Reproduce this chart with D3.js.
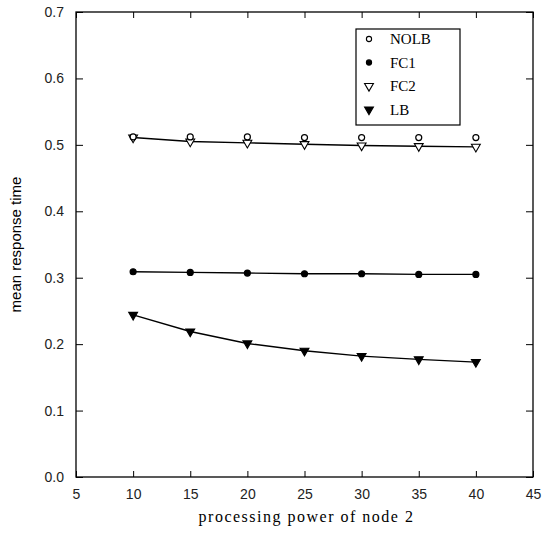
<!DOCTYPE html>
<html>
<head>
<meta charset="utf-8">
<script src="https://cdn.jsdelivr.net/npm/d3@7"></script>
<style>
  body { margin: 0; background: #fff; }
  .tick text { font-family: "Liberation Sans", Arial, sans-serif; font-size: 14px; fill: #222; }
</style>
</head>
<body>
<div id="chart"></div>
<script>
const xValues = [10, 15, 20, 25, 30, 35, 40];
const nolb = [0.512, 0.512, 0.512, 0.511, 0.511, 0.511, 0.511];
const fc1 = [0.309, 0.308, 0.307, 0.306, 0.306, 0.305, 0.305];
const fc2 = [0.511, 0.505, 0.503, 0.501, 0.499, 0.498, 0.497];
const lb = [0.244, 0.219, 0.201, 0.190, 0.182, 0.177, 0.173];
const xTicks = [5, 10, 15, 20, 25, 30, 35, 40, 45];
const yTicks = [0.0, 0.1, 0.2, 0.3, 0.4, 0.5, 0.6, 0.7];
const legendNames = ['NOLB', 'FC1', 'FC2', 'LB'];

const w = 549;
const h = 535;
const padL = 76, padR = 533, padT = 12, padB = 477;

const xScale = d3.scaleLinear().domain([5, 45]).range([padL, padR]);
const yScale = d3.scaleLinear().domain([0, 0.7]).range([padB, padT]);

const svg = d3.select('#chart')
  .append('svg')
  .attr('width', w)
  .attr('height', h);

// frame
svg.append('rect')
  .attr('x', padL).attr('y', padT)
  .attr('width', padR - padL).attr('height', padB - padT)
  .attr('fill', 'none').attr('stroke', '#000').attr('stroke-width', 1.3);

const xAxis = d3.axisBottom(xScale).tickValues(xTicks).tickSize(-6).tickPadding(12).tickFormat(d3.format('d'));
const yAxis = d3.axisLeft(yScale).tickValues(yTicks).tickSize(-7).tickPadding(12).tickFormat(d3.format('.1f'));

svg.append('g')
  .attr('transform', 'translate(0,' + padB + ')')
  .call(xAxis)
  .call(g => g.select('.domain').remove());

svg.append('g')
  .attr('transform', 'translate(' + padL + ',0)')
  .call(yAxis)
  .call(g => g.select('.domain').remove());

svg.append('g')
  .attr('transform', 'translate(0,' + padT + ')')
  .call(d3.axisTop(xScale).tickValues(xTicks).tickSize(-6).tickFormat(''))
  .call(g => g.select('.domain').remove());

svg.append('g')
  .attr('transform', 'translate(' + padR + ',0)')
  .call(d3.axisRight(yScale).tickValues(yTicks).tickSize(-7).tickFormat(''))
  .call(g => g.select('.domain').remove());

// lines
const line = d3.line()
  .x((d, i) => xScale(xValues[i]))
  .y(d => yScale(d));

[fc2, fc1, lb].forEach(s => {
  svg.append('path')
    .datum(s)
    .attr('d', line)
    .attr('fill', 'none')
    .attr('stroke', '#000')
    .attr('stroke-width', 1.4);
});

// markers
const tri = d3.symbol().type(d3.symbolTriangle).size(34);

function drawMarkers(series, kind) {
  const g = svg.append('g');
  series.forEach((v, i) => {
    const cx = xScale(xValues[i]), cy = yScale(v);
    if (kind === 'open-circle' || kind === 'dot') {
      g.append('circle')
        .attr('cx', cx).attr('cy', cy).attr('r', 3)
        .attr('fill', kind === 'dot' ? '#000' : '#fff')
        .attr('stroke', '#000').attr('stroke-width', 1.2);
    } else {
      g.append('path')
        .attr('d', tri)
        .attr('transform', 'translate(' + cx + ',' + cy + ') rotate(180)')
        .attr('fill', kind === 'down' ? '#000' : '#fff')
        .attr('stroke', '#000').attr('stroke-width', 1.1);
    }
  });
}

drawMarkers(fc2, 'open-down');
drawMarkers(nolb, 'open-circle');
drawMarkers(fc1, 'dot');
drawMarkers(lb, 'down');

// legend
const legend = svg.append('g');
legend.append('rect')
  .attr('x', 356).attr('y', 29)
  .attr('width', 104).attr('height', 96)
  .attr('fill', '#fff').attr('stroke', '#000').attr('stroke-width', 1.2);

const kinds = ['open-circle', 'dot', 'open-down', 'down'];
legendNames.forEach((name, i) => {
  const ly = 39 + i * 23.5;
  if (kinds[i] === 'open-circle' || kinds[i] === 'dot') {
    legend.append('circle')
      .attr('cx', 369).attr('cy', ly).attr('r', 2.6)
      .attr('fill', kinds[i] === 'dot' ? '#000' : '#fff')
      .attr('stroke', '#000').attr('stroke-width', 1.1);
  } else {
    legend.append('path')
      .attr('d', tri)
      .attr('transform', 'translate(369,' + ly + ') rotate(180)')
      .attr('fill', kinds[i] === 'down' ? '#000' : '#fff')
      .attr('stroke', '#000').attr('stroke-width', 1.1);
  }
  legend.append('text')
    .attr('x', 390).attr('y', ly + 5)
    .style('font-family', '"Liberation Serif", "DejaVu Serif", serif')
    .style('font-size', '15px')
    .text(name);
});

// axis titles
svg.append('text')
  .attr('x', (padL + padR) / 2 + 2).attr('y', 522)
  .attr('text-anchor', 'middle')
  .style('font-family', '"Liberation Serif", "DejaVu Serif", serif')
  .style('font-size', '16px')
  .style('letter-spacing', '1.5px')
  .text('processing power of node 2');

svg.append('text')
  .attr('transform', 'translate(21,' + ((padT + padB) / 2) + ') rotate(-90)')
  .attr('text-anchor', 'middle')
  .style('font-family', '"Liberation Sans", Arial, sans-serif')
  .style('font-size', '15px')
  .text('mean response time');
</script>
</body>
</html>
